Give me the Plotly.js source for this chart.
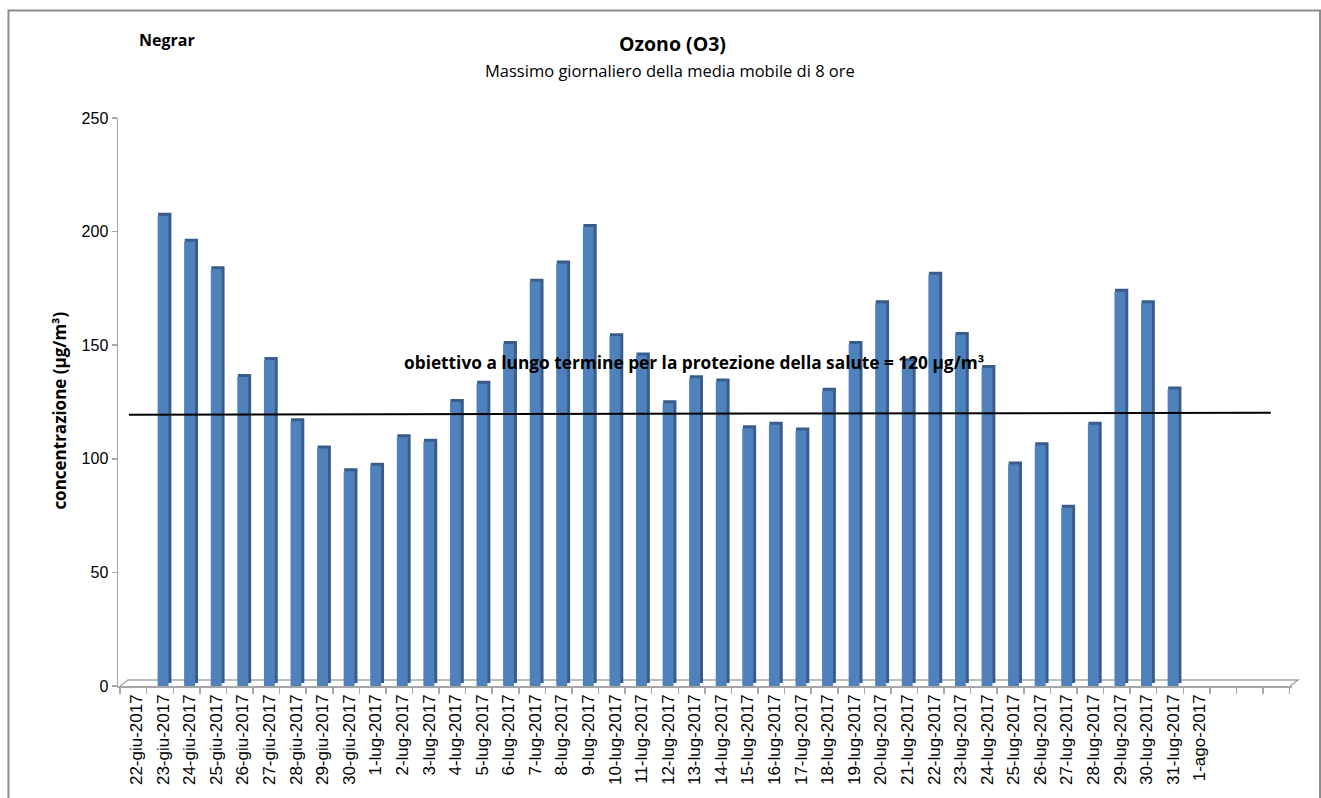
<!DOCTYPE html>
<html>
<head>
<meta charset="utf-8">
<script src="https://cdn.plot.ly/plotly-3.0.1.min.js"></script>
<style>html,body{margin:0;padding:0;background:#fff;}#chart{width:1321px;height:798px;}</style>
</head>
<body>
<div id="chart"></div>
<script>
const dateLabels = ["22-giu-2017","23-giu-2017","24-giu-2017","25-giu-2017","26-giu-2017","27-giu-2017","28-giu-2017","29-giu-2017","30-giu-2017","1-lug-2017","2-lug-2017","3-lug-2017","4-lug-2017","5-lug-2017","6-lug-2017","7-lug-2017","8-lug-2017","9-lug-2017","10-lug-2017","11-lug-2017","12-lug-2017","13-lug-2017","14-lug-2017","15-lug-2017","16-lug-2017","17-lug-2017","18-lug-2017","19-lug-2017","20-lug-2017","21-lug-2017","22-lug-2017","23-lug-2017","24-lug-2017","25-lug-2017","26-lug-2017","27-lug-2017","28-lug-2017","29-lug-2017","30-lug-2017","31-lug-2017","1-ago-2017","","",""];
const ozono = [0,207,195.5,183.5,136,143.5,116.5,104.5,94.5,97,109.5,107.5,125,133,150.5,178,186,202,154,145.5,124.5,135.5,134,113.5,115,112.5,130,150.5,168.5,143,181,154.5,140,97.5,106,78.5,115,173.5,168.5,130.5,0,0,0,0];
const positions = dateLabels.map((_, i) => i);
const obiettivo = 120;

const traces = [
  {type:'bar', x:positions, y:ozono, base:1.3, width:0.50, offset:-0.19,
   marker:{color:'#385D8A', line:{width:0}}, hoverinfo:'skip', showlegend:false},
  {type:'bar', x:positions, y:ozono, width:0.41, offset:-0.21,
   marker:{color:'#4F81BD', line:{width:0}}, name:'Ozono', showlegend:false}
];

const layout = {
  width:1321, height:798,
  margin:{l:118, r:29, t:118, b:112},
  paper_bgcolor:'#fff', plot_bgcolor:'#fff',
  barmode:'overlay',
  font:{family:'Liberation Sans, Arial, sans-serif', size:16, color:'#000'},
  xaxis:{range:[-0.70,43.47], tickmode:'array', tickvals:positions, ticktext:dateLabels,
    tickangle:-90, showgrid:false, zeroline:false, showline:true, linecolor:'#A6A6A6', linewidth:1.5,
    ticks:'', ticklen:6, tickfont:{size:17, family:'Liberation Sans, Arial, sans-serif'},
    minor:{ticks:'outside', ticklen:6, tickcolor:'#A6A6A6', tickwidth:1.5, tick0:-0.62, dtick:1, showgrid:false}},
  yaxis:{range:[0,250], tickvals:[0,50,100,150,200,250], showgrid:false, zeroline:false,
    showline:true, linecolor:'#A6A6A6', linewidth:1.5, ticks:'outside', ticklen:5, tickcolor:'#A6A6A6', tickwidth:1.5,
    tickfont:{size:16, family:'Liberation Sans, Arial, sans-serif'}},
  shapes:[
    {type:'path', xref:'paper', yref:'paper', path:'M 0.0017 0 L 0.0085 0.0106 L 1.0051 0.0106 L 0.9983 0', line:{color:'#A6A6A6', width:1.5}, layer:'below'},
    {type:'line', xref:'paper', yref:'y', x0:0.0094, x1:0.982, y0:obiettivo-0.6, y1:obiettivo+0.3, line:{color:'#000', width:2}},
    {type:'rect', xref:'paper', yref:'paper', x0:-0.0933, x1:1.0239, y0:-0.2095, y1:1.1893, line:{color:'#8C8C8C', width:2}, layer:'below'}
  ],
  annotations:[
    {xref:'paper', yref:'paper', x:0.4719, y:1.1315, yanchor:'middle', text:'<b>Ozono (O3)</b>', showarrow:false, font:{size:19.5, family:'Open Sans, sans-serif'}},
    {xref:'paper', yref:'paper', x:0.4702, y:1.0845, yanchor:'middle', text:'Massimo giornaliero della media mobile di 8 ore', showarrow:false, font:{size:16.5, family:'Open Sans, sans-serif'}},
    {xref:'paper', yref:'paper', x:0.0162, y:1.137, xanchor:'left', yanchor:'middle', text:'<b>Negrar</b>', showarrow:false, font:{size:16, family:'Open Sans, sans-serif'}},
    {xref:'paper', yref:'paper', x:-0.0613, y:0.484, textangle:-90, yanchor:'middle', text:'<b>concentrazione (µg/m³)</b>', showarrow:false, font:{size:17, family:'Open Sans, sans-serif'}},
    {xref:'x', yref:'y', x:20.97, y:142.6, yanchor:'middle', text:'<b>obiettivo a lungo termine per la protezione della salute = '+obiettivo+' µg/m³</b>', showarrow:false, font:{size:17.3, family:'Open Sans, sans-serif'}}
  ]
};
Plotly.newPlot('chart', traces, layout, {displayModeBar:false, staticPlot:true});
</script>
</body>
</html>
